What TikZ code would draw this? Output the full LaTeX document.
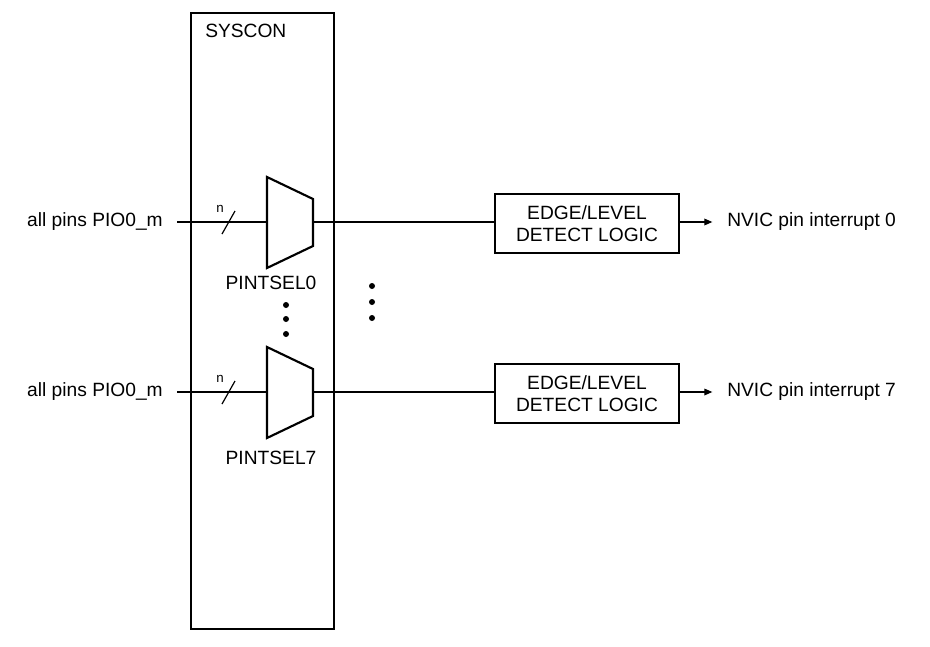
\documentclass[tikz,border=0pt]{standalone}
\usepackage{fontspec}
\setmainfont{Liberation Sans}
\usetikzlibrary{arrows.meta}
\begin{document}
\begin{tikzpicture}[x=0.75pt, y=-0.75pt,
    label_style/.style={font=\fontsize{14.4}{17}\selectfont, inner sep=0pt},
    box_style/.style={draw, line width=1.8pt, minimum width=138pt, minimum height=44pt, align=center, inner sep=0pt, font=\fontsize{14.4}{17}\selectfont},
    wire/.style={line width=0.9pt},
    dot_style/.style={circle, fill, inner sep=0pt, minimum size=4.5pt}
]
\useasboundingbox (0,0) rectangle (930,646);
% bloc SYSCON
\node[draw, line width=1.8pt, minimum width=107pt, minimum height=462pt, inner sep=0pt, anchor=north west] (syscon) at (190,12) {};
\node[label_style, anchor=west] (sysconlbl) at (205,31) {SYSCON};
% une ligne par interruption : PINTSEL, detection, NVIC
\foreach \k/\y/\d in {0/222/61, 7/392/66} {
    \node[label_style, anchor=east] (pin\k) at (163,\y) {all pins PIO0\_m};
    \coordinate (in\k) at (177,\y);
    \coordinate (muxin\k) at (267,\y);
    \coordinate (muxout\k) at (313,\y);
    \draw[line width=1.6pt, line join=miter] (267,\y-45) -- (313,\y-23) -- (313,\y+24) -- (267,\y+46) -- cycle;
    \node[label_style] (sel\k) at (271,\y+\d) {PINTSEL\k};
    \node[font=\fontsize{10}{12}\selectfont, inner sep=0pt] (n\k) at (220,\y-13) {n};
    \node[box_style] (edge\k) at (587,\y+1.5) {EDGE/LEVEL\\DETECT LOGIC};
    \node[label_style, anchor=west] (nvic\k) at (727,\y) {NVIC pin interrupt \k};
    \draw[wire] (in\k) -- (muxin\k);
    \draw[wire] (222,\y+12) -- (235,\y-11);
    \draw[wire] (muxout\k) -- (muxout\k -| edge\k.west);
    \draw[wire, -{Triangle[length=6pt, width=5pt]}, shorten >=11pt] (edge\k.east |- nvic\k) -- (nvic\k.west);
}
% points de suspension
\foreach \yy in {305,319,334} {
    \node[dot_style] (vdot\yy) at (286,\yy) {};
}
\foreach \yy in {286,302,318} {
    \node[dot_style] (mdot\yy) at (372,\yy) {};
}
\end{tikzpicture}
\end{document}
